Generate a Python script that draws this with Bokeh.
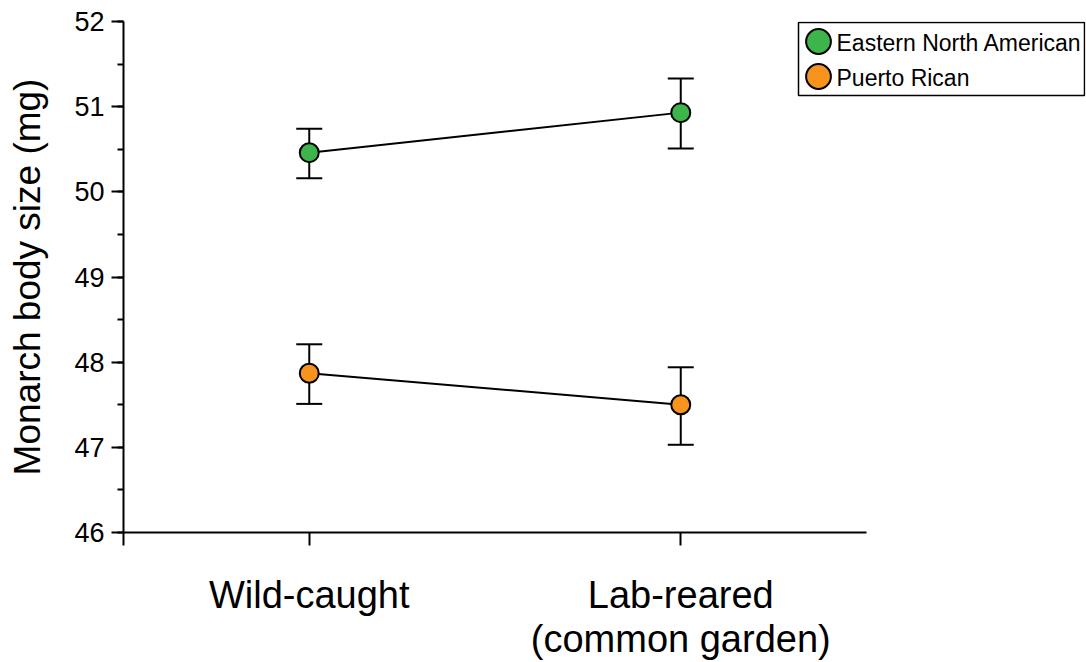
from bokeh.plotting import figure
from bokeh.models import (Range1d, ColumnDataSource, Whisker, TeeHead, FixedTicker, Label,
                          Legend, LegendItem, SingleIntervalTicker, BoxAnnotation)
from bokeh.embed import file_html
from bokeh.resources import INLINE

# ---- data ----
categories = ["Wild-caught", "Lab-reared\n(common garden)"]
series_names = ["Eastern North American", "Puerto Rican"]
eastern_mean = [50.46, 50.93]
eastern_upper = [50.74, 51.33]
eastern_lower = [50.16, 50.51]
pr_mean = [47.87, 47.50]
pr_upper = [48.21, 47.94]
pr_lower = [47.51, 47.03]
colors = ["#3db54a", "#f7941e"]

FONT = "Liberation Sans"

# category positions: centre of each category slot
xpos = [i + 0.5 for i in range(len(categories))]
ncat = len(categories)

p = figure(width=1086, height=662, x_range=Range1d(0, ncat * 962 / 743),
           y_range=Range1d(46, 52), output_backend="svg", toolbar_location=None,
           min_border_left=123, min_border_top=21, min_border_right=1, min_border_bottom=130)
p.outline_line_color = None
p.grid.visible = False
p.background_fill_color = "white"

renderers = []
for mean, up, lo, col in [(eastern_mean, eastern_upper, eastern_lower, colors[0]),
                          (pr_mean, pr_upper, pr_lower, colors[1])]:
    src = ColumnDataSource(dict(x=xpos, y=mean, upper=up, lower=lo))
    p.line("x", "y", source=src, line_color="black", line_width=2)
    w = Whisker(base="x", upper="upper", lower="lower", source=src, dimension="height",
                line_color="black", line_width=2,
                upper_head=TeeHead(size=26, line_width=2, line_color="black"),
                lower_head=TeeHead(size=26, line_width=2, line_color="black"))
    p.add_layout(w)
    r = p.scatter("x", "y", source=src, size=19, fill_color=col, line_color="black", line_width=2)
    renderers.append(r)

# axes
yax = p.yaxis[0]
yax.ticker = SingleIntervalTicker(interval=1, num_minor_ticks=2)
yax.axis_label = "Monarch body size (mg)"
yax.axis_label_text_font = FONT
yax.axis_label_text_font_size = "37px"
yax.axis_label_text_font_style = "normal"
yax.axis_label_text_color = "black"
yax.axis_label_standoff = 23
yax.major_label_text_font = FONT
yax.major_label_text_font_size = "27px"
yax.major_label_text_color = "black"
yax.major_label_standoff = 7
yax.major_tick_out = 12
yax.major_tick_in = 0
yax.minor_tick_out = 6
yax.minor_tick_in = 0
yax.axis_line_width = 2
yax.major_tick_line_width = 2
yax.minor_tick_line_width = 2

xax = p.xaxis[0]
xax.bounds = (0, ncat)
xax.ticker = FixedTicker(ticks=[0] + xpos, minor_ticks=[])
overrides = {0: ""}
overrides.update({x: c for x, c in zip(xpos, categories)})
xax.major_label_overrides = overrides
xax.major_label_text_font = FONT
xax.major_label_text_font_size = "38px"
xax.major_label_text_color = "black"
xax.major_label_text_line_height = 1.05
xax.major_label_standoff = 28
xax.major_tick_out = 13
xax.major_tick_in = 0
xax.minor_tick_out = 0
xax.axis_line_width = 2
xax.major_tick_line_width = 2
xax.major_label_orientation = "horizontal"

# legend frame
p.add_layout(BoxAnnotation(left=675, right=961, bottom=437, top=510,
                           left_units="screen", right_units="screen",
                           bottom_units="screen", top_units="screen",
                           fill_color="white", fill_alpha=1, line_color="black",
                           line_width=1.5, line_alpha=1))

# legend: one single-entry legend per series (for marker size), with text labels
row_tops = [460, 425]
row_mid = [490, 455]
for i in range(len(series_names)):
    lg = Legend(items=[LegendItem(label=" ", renderers=[renderers[i]])],
                location=(664, row_tops[i]), glyph_width=62, glyph_height=62, padding=0,
                label_standoff=0, label_width=0, label_text_font_size="10px",
                border_line_color=None, background_fill_alpha=0, margin=0)
    p.add_layout(lg, "center")
    p.add_layout(Label(x=713, y=row_mid[i], x_units="screen", y_units="screen",
                       text=series_names[i], text_font=FONT, text_font_size="23px",
                       text_color="black", text_baseline="middle", text_align="left"))

open("out.html", "w").write(file_html(p, INLINE))
